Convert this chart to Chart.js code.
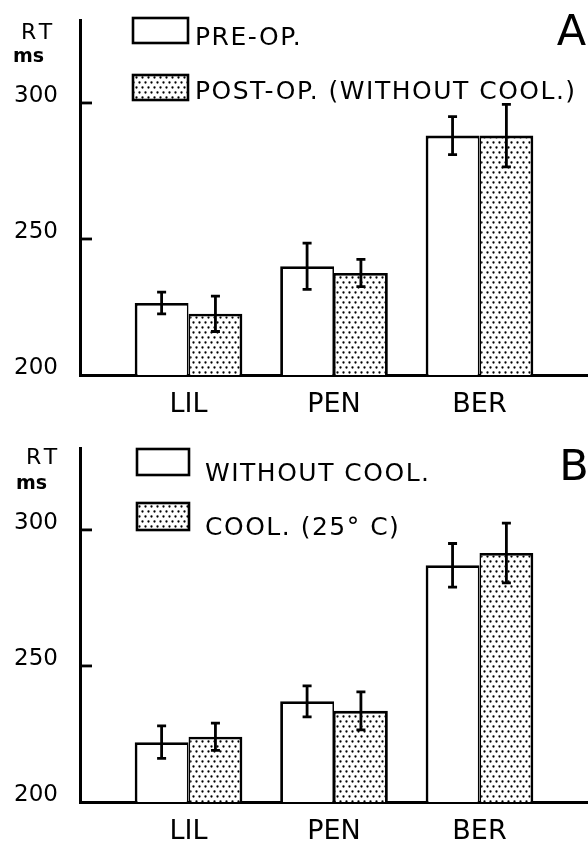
<!DOCTYPE html>
<html>
<head>
<meta charset="utf-8">
<script src="https://cdn.jsdelivr.net/npm/chart.js@4.4.0/dist/chart.umd.min.js"></script>
<style>
html, body { margin: 0; padding: 0; background: #fff; }
canvas { display: block; }
</style>
</head>
<body>
<canvas id="chartA" width="588" height="424"></canvas>
<canvas id="chartB" width="588" height="423"></canvas>
<script>
// data (RT in ms)
const groups = ['LIL', 'PEN', 'BER'];
const yTicks = [200, 250, 300];

const legendA = ['PRE-OP.', 'POST-OP. (WITHOUT COOL.)'];
const preOp = [226.5, 240, 288];
const preOpErr = [4, 8.5, 7];
const postOp = [222.5, 237.5, 288];
const postOpErr = [6.5, 5, 11.5];

const legendB = ['WITHOUT COOL.', 'COOL. (25° C)'];
const withoutCool = [222, 237, 287];
const withoutCoolErr = [6, 5.7, 8];
const cooled = [224, 233.5, 291.5];
const cooledErr = [5, 7, 11];

const FONT = "'DejaVu Sans', sans-serif";

function dotPattern() {
  const c = document.createElement('canvas');
  c.width = 6; c.height = 10;
  const g = c.getContext('2d');
  g.fillStyle = '#fff';
  g.fillRect(0, 0, 6, 10);
  g.fillStyle = '#000';
  [[1.5, 2.5], [4.5, 7.5]].forEach(p => {
    g.beginPath();
    g.arc(p[0], p[1], 1.15, 0, Math.PI * 2);
    g.fill();
  });
  return g.createPattern(c, 'repeat');
}
const dots = dotPattern();

function toPoints(vals) {
  return vals.map((v, i) => ({x: i, y: v}));
}

// error bars, inward y ticks, legend and labels
const decoPlugin = {
  id: 'deco',
  afterDatasetsDraw(chart, args, o) {
    const ctx = chart.ctx;
    const y = chart.scales.y;
    ctx.save();
    ctx.strokeStyle = '#000';
    ctx.lineWidth = 2.8;

    o.errors.forEach((errs, di) => {
      const meta = chart.getDatasetMeta(di);
      meta.data.forEach((bar, i) => {
        const v = chart.data.datasets[di].data[i].y;
        const top = y.getPixelForValue(v + errs[i]);
        const bot = y.getPixelForValue(v - errs[i]);
        ctx.beginPath();
        ctx.moveTo(bar.x, top); ctx.lineTo(bar.x, bot);
        ctx.moveTo(bar.x - 4.5, top); ctx.lineTo(bar.x + 4.5, top);
        ctx.moveTo(bar.x - 4.5, bot); ctx.lineTo(bar.x + 4.5, bot);
        ctx.stroke();
      });
    });

    const left = chart.chartArea.left;
    yTicks.slice(1).forEach(v => {
      const p = y.getPixelForValue(v);
      ctx.beginPath();
      ctx.moveTo(left, p); ctx.lineTo(left + 12, p);
      ctx.stroke();
    });

    // legend boxes
    ctx.lineWidth = 2.6;
    o.legend.forEach((it, i) => {
      const b = o.boxes[i];
      ctx.fillStyle = i === 0 ? '#fff' : dots;
      ctx.fillRect(b[0], b[1], b[2], b[3]);
      ctx.strokeRect(b[0], b[1], b[2], b[3]);
      ctx.fillStyle = '#000';
      ctx.font = '25px ' + FONT;
      ctx.letterSpacing = '1.5px';
      ctx.textAlign = 'left';
      ctx.textBaseline = 'alphabetic';
      ctx.fillText(it, o.textX, o.textY[i]);
    });

    // panel letter
    ctx.letterSpacing = '0px';
    ctx.font = '43px ' + FONT;
    ctx.textAlign = 'center';
    ctx.fillText(o.letter, o.letterPos[0], o.letterPos[1]);

    // unit label
    ctx.font = '22px ' + FONT;
    ctx.letterSpacing = '4px';
    ctx.textAlign = 'left';
    ctx.fillText('RT', o.rt[0], o.rt[1]);
    ctx.letterSpacing = '0px';
    ctx.font = 'bold 19px ' + FONT;
    ctx.fillText('ms', o.ms[0], o.ms[1]);
    ctx.restore();
  }
};

function makeChart(id, series, errs, labels, yMax, padTop, xH, look) {
  return new Chart(document.getElementById(id), {
    type: 'bar',
    data: {
      datasets: [
        {
          label: labels[0],
          data: toPoints(series[0]),
          backgroundColor: '#fff',
          borderColor: '#000',
          borderWidth: {left: 2.8, right: 1.7, top: 2.8, bottom: 0},
          borderSkipped: 'start'
        },
        {
          label: labels[1],
          data: toPoints(series[1]),
          backgroundColor: dots,
          borderColor: '#000',
          borderWidth: {left: 1.7, right: 2.8, top: 2.8, bottom: 0},
          borderSkipped: 'start'
        }
      ]
    },
    options: {
      responsive: false,
      animation: false,
      categoryPercentage: 0.74,
      barPercentage: 1,
      layout: {padding: {top: padTop, left: 0, right: 0, bottom: 0}},
      plugins: {
        legend: {display: false},
        tooltip: {enabled: false},
        deco: Object.assign({errors: errs, legend: labels}, look)
      },
      scales: {
        x: {
          type: 'linear',
          offset: false,
          bounds: 'data',
          min: -0.746,
          max: 2.746,
          afterBuildTicks: s => { s.ticks = groups.map((g, i) => ({value: i})); },
          afterFit: s => { s.height = xH; s.paddingLeft = 0; s.paddingRight = 0; },
          grid: {display: false, drawTicks: false, offset: false},
          border: {display: true, color: '#000', width: 3},
          ticks: {
            padding: 14,
            color: '#000',
            autoSkip: false,
            maxRotation: 0,
            font: {family: FONT, size: 27},
            callback: v => groups[v]
          }
        },
        y: {
          min: 200,
          max: yMax,
          bounds: 'data',
          afterBuildTicks: s => { s.ticks = yTicks.map(v => ({value: v})); },
          afterFit: s => { s.width = 80; s.paddingTop = 0; s.paddingBottom = 0; },
          grid: {display: false, drawTicks: false},
          border: {display: true, color: '#000', width: 3},
          ticks: {
            padding: 22,
            labelOffset: -7,
            color: '#000',
            font: {family: FONT, size: 23}
          }
        }
      }
    },
    plugins: [decoPlugin]
  });
}

makeChart('chartA', [preOp, postOp], [preOpErr, postOpErr], legendA, 330.5, 20, 49, {
  boxes: [[133, 18, 55, 25], [133, 75, 55, 25]],
  textX: 195, textY: [45, 99],
  letter: 'A', letterPos: [571.5, 45],
  rt: [21, 39], ms: [13, 62]
});

makeChart('chartB', [withoutCool, cooled], [withoutCoolErr, cooledErr], legendB, 330.1, 24, 45, {
  boxes: [[137, 25, 52, 26], [137, 79, 52, 27]],
  textX: 205, textY: [57, 111],
  letter: 'B', letterPos: [574, 56],
  rt: [26, 40], ms: [16, 65]
});
</script>
</body>
</html>
